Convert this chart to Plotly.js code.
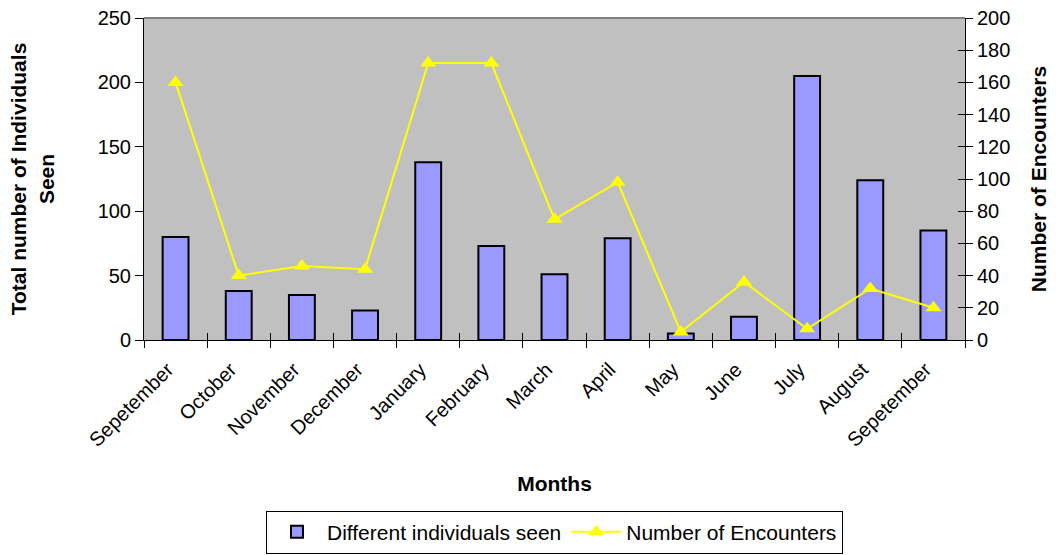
<!DOCTYPE html>
<html>
<head>
<meta charset="utf-8">
<script src="https://cdn.plot.ly/plotly-3.0.1.min.js"></script>
<style>
  html, body { margin: 0; padding: 0; background: #ffffff; }
  #chart { width: 1056px; height: 555px; }
</style>
</head>
<body>
<div id="chart"></div>
<script>
// Monthly survey summary
const months = ["Sepetember", "October", "November", "December", "January", "February",
                "March", "April", "May", "June", "July", "August", "Sepetember"];
const individualsSeen = [80, 38, 35, 23, 138, 73, 51, 79, 5, 18, 205, 124, 85];
const encounters = [160, 40, 46, 44, 172, 172, 75, 98, 5, 36, 7, 32, 20];
const leftTicks = [0, 50, 100, 150, 200, 250];
const rightTicks = [0, 20, 40, 60, 80, 100, 120, 140, 160, 180, 200];

// positions along the month axis (the same month name appears twice)
const pos = months.map((_, i) => i);

const font = "Liberation Sans, Arial, sans-serif";
const tickSize = 20;
const titleSize = 21;

const traces = [
  {
    type: "bar",
    name: "Different individuals seen",
    x: pos,
    y: individualsSeen,
    width: 0.41,
    marker: { color: "#9999FF", line: { color: "#000000", width: 2 } },
    xaxis: "x",
    yaxis: "y",
    hoverinfo: "y"
  },
  {
    type: "scatter",
    mode: "lines+markers",
    name: "Number of Encounters",
    x: pos,
    y: encounters,
    line: { color: "#FFFF00", width: 2 },
    marker: { symbol: "triangle-up", size: 14, color: "#FFFF00" },
    xaxis: "x",
    yaxis: "y2",
    hoverinfo: "y"
  }
];

// hidden helper traces so the extra tick-mark axes get drawn
[["x2", "y"], ["x3", "y"], ["x", "y3"]].forEach(([xa, ya]) => {
  traces.push({
    type: "scatter", x: [0], y: [0], xaxis: xa, yaxis: ya,
    mode: "markers", marker: { opacity: 0 }, showlegend: false, hoverinfo: "skip"
  });
});

const boundaryAxis = (dir) => ({
  type: "linear",
  overlaying: "x",
  anchor: "y",
  side: "bottom",
  range: [-0.5, months.length - 0.5],
  tickmode: "linear",
  tick0: -0.5,
  dtick: 1,
  ticks: dir,
  ticklen: 7,
  tickcolor: "#000000",
  showticklabels: false,
  showgrid: false,
  zeroline: false,
  showline: false,
  automargin: false,
  fixedrange: true
});

const layout = {
  width: 1056,
  height: 555,
  margin: { l: 144, r: 91, t: 18, b: 215, autoexpand: false },
  paper_bgcolor: "#ffffff",
  plot_bgcolor: "#C0C0C0",
  font: { family: font, size: tickSize, color: "#000000" },
  showlegend: true,
  legend: {
    orientation: "h",
    x: 0.50, xanchor: "center",
    y: -0.53, yanchor: "top",
    bgcolor: "#ffffff",
    bordercolor: "#000000",
    borderwidth: 1,
    font: { family: font, size: 21 },
    traceorder: "normal",
    itemwidth: 50,
    tracegroupgap: 0
  },
  xaxis: {
    type: "linear",
    range: [-0.5, months.length - 0.5],
    tickmode: "array",
    tickvals: pos,
    ticktext: months,
    tickangle: -45,
    ticks: "",
    ticklabelstandoff: 9,
    ticklabelshift: -8,
    showgrid: false,
    zeroline: false,
    showline: true,
    linecolor: "#000000",
    linewidth: 1,
    automargin: false,
    tickfont: { family: font, size: tickSize },
    title: { text: "<b>Months</b>", font: { family: font, size: titleSize }, standoff: 26 },
    fixedrange: true
  },
  xaxis2: boundaryAxis("outside"),
  xaxis3: boundaryAxis("inside"),
  yaxis: {
    range: [0, 250],
    tickmode: "array",
    tickvals: leftTicks,
    ticks: "outside",
    ticklen: 8,
    tickcolor: "#000000",
    showgrid: false,
    zeroline: false,
    showline: true,
    linecolor: "#000000",
    linewidth: 1,
    automargin: false,
    tickfont: { family: font, size: tickSize },
    title: { text: "<b>Total number of Individuals<br>Seen</b>", font: { family: font, size: titleSize }, standoff: 37 },
    fixedrange: true
  },
  yaxis2: {
    overlaying: "y",
    side: "right",
    range: [0, 200],
    tickmode: "array",
    tickvals: rightTicks,
    ticks: "outside",
    ticklen: 7,
    tickcolor: "#000000",
    showgrid: false,
    zeroline: false,
    showline: true,
    linecolor: "#000000",
    linewidth: 1,
    automargin: false,
    tickfont: { family: font, size: tickSize },
    title: { text: "<b>Number of Encounters</b>", font: { family: font, size: titleSize }, standoff: 21 },
    fixedrange: true
  },
  // inner half of the crossing tick marks on the right axis
  yaxis3: {
    overlaying: "y",
    side: "right",
    range: [0, 200],
    tickmode: "array",
    tickvals: rightTicks,
    ticks: "inside",
    ticklen: 7,
    tickcolor: "#000000",
    showticklabels: false,
    showgrid: false,
    zeroline: false,
    showline: false,
    automargin: false,
    fixedrange: true
  },
  shapes: [
    {
      type: "line", xref: "paper", yref: "paper",
      x0: 0, x1: 1, y0: 1, y1: 1,
      line: { color: "#808080", width: 2 }
    }
  ]
};

Plotly.newPlot("chart", traces, layout, { displayModeBar: false, staticPlot: true });
</script>
</body>
</html>
